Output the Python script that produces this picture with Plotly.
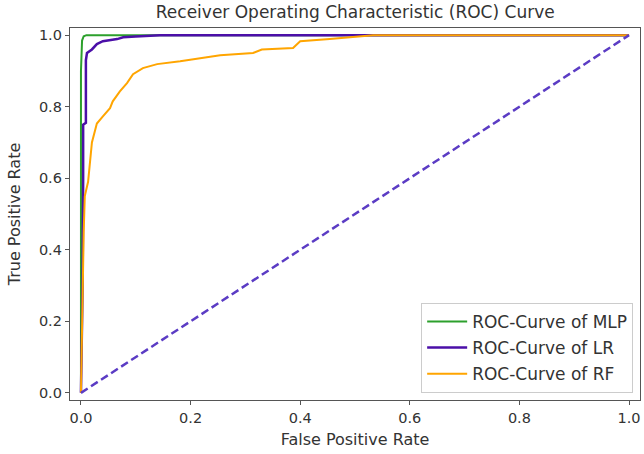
import plotly.graph_objs as go

# ROC points
fpr_mlp = [0.0, 0.0, 0.0, 0.002, 0.005, 0.01, 0.02, 1.0]
tpr_mlp = [0.0, 0.5, 0.9, 0.985, 0.997, 1.0, 1.0, 1.0]

fpr_lr = [0.0, 0.003, 0.004, 0.004, 0.009, 0.009, 0.011, 0.02, 0.029, 0.04, 0.066, 0.077, 0.10, 0.144, 1.0]
tpr_lr = [0.0, 0.3, 0.6, 0.75, 0.755, 0.93, 0.95, 0.96, 0.975, 0.983, 0.989, 0.994, 0.996, 1.0, 1.0]

fpr_rf = [0.0, 0.002, 0.005, 0.007, 0.013, 0.02, 0.026, 0.029, 0.04, 0.053, 0.058, 0.071, 0.084,
          0.095, 0.113, 0.139, 0.181, 0.217, 0.254, 0.314, 0.33, 0.387, 0.40, 0.454, 0.509, 0.533,
          0.6, 1.0]
tpr_rf = [0.0, 0.2, 0.45, 0.55, 0.59, 0.70, 0.74, 0.753, 0.773, 0.796, 0.815, 0.843, 0.866,
          0.891, 0.908, 0.919, 0.927, 0.936, 0.944, 0.95, 0.96, 0.964, 0.983, 0.989, 0.997, 1.0,
          1.0, 1.0]

chance = [0.0, 1.0]
ticks = [0.0, 0.2, 0.4, 0.6, 0.8, 1.0]
tick_text = ["0.0", "0.2", "0.4", "0.6", "0.8", "1.0"]

font_family = "DejaVu Sans"
text_color = "#333333"

fig = go.Figure()

fig.add_trace(go.Scatter(x=fpr_mlp, y=tpr_mlp, mode="lines", name="ROC-Curve of MLP",
                         legendgroup="mlp", line=dict(color="#2ca02c", width=2)))
fig.add_trace(go.Scatter(x=fpr_lr, y=tpr_lr, mode="lines", name="ROC-Curve of LR",
                         legendgroup="lr", line=dict(color="#4b0fa8", width=2.5)))
fig.add_trace(go.Scatter(x=fpr_rf, y=tpr_rf, mode="lines", name="ROC-Curve of RF",
                         legendgroup="rf", line=dict(color="#ffa500", width=2)))
fig.add_trace(go.Scatter(x=chance, y=chance, mode="lines", showlegend=False,
                         line=dict(color="#5b3cc4", width=2.5, dash="8px,4px")))

axis_style = dict(
    range=[-0.02, 1.02],
    tickvals=ticks,
    ticktext=tick_text,
    showgrid=False,
    zeroline=False,
    showline=True,
    mirror=True,
    linecolor="#555555",
    linewidth=1.3,
    ticks="outside",
    ticklen=4,
    tickcolor="#555555",
    tickfont=dict(size=14.5, color=text_color, family=font_family),
)

fig.update_layout(
    width=644,
    height=454,
    title=dict(text="Receiver Operating Characteristic (ROC) Curve", x=0.5516, xanchor="center",
               y=0.974, yanchor="middle", font=dict(size=17, color=text_color, family=font_family)),
    xaxis=dict(axis_style, title=dict(text="False Positive Rate", standoff=9,
                                      font=dict(size=16, color=text_color, family=font_family))),
    yaxis=dict(axis_style, title=dict(text="True Positive Rate", standoff=14,
                                      font=dict(size=16, color=text_color, family=font_family))),
    legend=dict(x=0.988, y=0.019, xanchor="right", yanchor="bottom",
                bordercolor="#cccccc", borderwidth=1, bgcolor="white",
                tracegroupgap=1, itemwidth=40,
                font=dict(size=17, color=text_color, family=font_family)),
    margin=dict(l=70, r=4, t=28, b=54),
    plot_bgcolor="white",
    paper_bgcolor="white",
)

# drop the page's default body margin so the figure sits at the top-left corner
fig.write_html("out.html", config={"displayModeBar": False},
               post_script="document.body.style.margin='0';")
